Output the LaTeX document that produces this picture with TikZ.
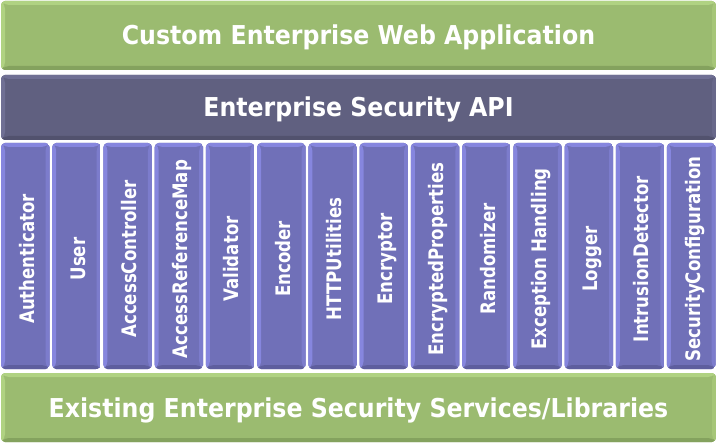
\documentclass[tikz,border=0pt]{standalone}
\usepackage{fontspec}
\newfontfamily\tfont[FakeStretch=0.91]{DejaVu Sans}
\newfontfamily\cfont[FakeStretch=0.83]{DejaVu Sans}
\definecolor{gbase}{RGB}{155,187,112}
\definecolor{glight}{RGB}{176,210,130}
\definecolor{gright}{RGB}{166,198,120}
\definecolor{gdark}{RGB}{132,162,94}
\definecolor{pbase}{RGB}{96,96,128}
\definecolor{plight}{RGB}{112,112,148}
\definecolor{pright}{RGB}{104,104,138}
\definecolor{pdark}{RGB}{82,82,110}
\definecolor{cbase}{RGB}{112,112,184}
\definecolor{clight}{RGB}{134,134,222}
\definecolor{cright}{RGB}{124,124,204}
\definecolor{cdark}{RGB}{94,94,158}
\tikzset{
  bev/.style n args={4}{rounded corners=4pt, inner sep=0pt,
    path picture={
      \coordinate (NW) at (path picture bounding box.north west);
      \coordinate (NE) at (path picture bounding box.north east);
      \coordinate (SW) at (path picture bounding box.south west);
      \coordinate (SE) at (path picture bounding box.south east);
      \fill[#1] (SW) rectangle (NE);
      \fill[#2] (NW) -- (NE) -- ([xshift=-4pt,yshift=-4pt]NE) -- ([xshift=4pt,yshift=-4pt]NW) -- cycle;
      \fill[#2] (NW) -- ([xshift=4pt,yshift=-4pt]NW) -- ([xshift=4pt,yshift=4pt]SW) -- (SW) -- cycle;
      \fill[#4] (NE) -- (SE) -- ([xshift=-4pt,yshift=4pt]SE) -- ([xshift=-4pt,yshift=-4pt]NE) -- cycle;
      \fill[#3] (SW) -- ([xshift=4pt,yshift=4pt]SW) -- ([xshift=-4pt,yshift=4pt]SE) -- (SE) -- cycle;
    }},
  bartext/.style={text=white, text height=19pt, text depth=0pt,
    font=\tfont\bfseries\fontsize{26}{30}\selectfont},
  greenbar/.style={bev={gbase}{glight}{gdark}{gright}, minimum width=715pt, minimum height=69pt, bartext},
  purplebar/.style={bev={pbase}{plight}{pdark}{pright}, minimum width=715pt, minimum height=65pt, bartext},
  colbox/.style={bev={cbase}{clight}{cdark}{cright}, minimum width=48.5pt, minimum height=226pt},
  coltext/.style={inner sep=0pt, text=white, font=\cfont\bfseries\fontsize{20}{22}\selectfont},
}
\newcommand\collabel[1]{\rotatebox{90}{\raisebox{0pt}[14.6pt][0pt]{#1}}}
\begin{document}
\begin{tikzpicture}[x=1pt,y=-1pt]
\fill[white] (0,0) rectangle (717,443);
\useasboundingbox (0,0) rectangle (717,443);
\node[greenbar] (app) at (358.5,35.5) {Custom Enterprise Web Application};
\node[purplebar] (api) at (358.5,107.5) {Enterprise Security API};
\foreach \t [count=\i from 0] in {Authenticator,User,AccessController,AccessReferenceMap,Validator,Encoder,HTTPUtilities,Encryptor,EncryptedProperties,Randomizer,Exception Handling,Logger,IntrusionDetector,SecurityConfiguration}{
  \node[colbox] (c\i) at ({1+24.25+51.23*\i},256) {};
  \node[coltext] (t\i) at ([xshift=1.5pt,yshift=-3pt]c\i.center) {\collabel{\t}};
}
\node[greenbar] (svc) at (358.5,407.5) {Existing Enterprise Security Services/Libraries};
\end{tikzpicture}
\end{document}
